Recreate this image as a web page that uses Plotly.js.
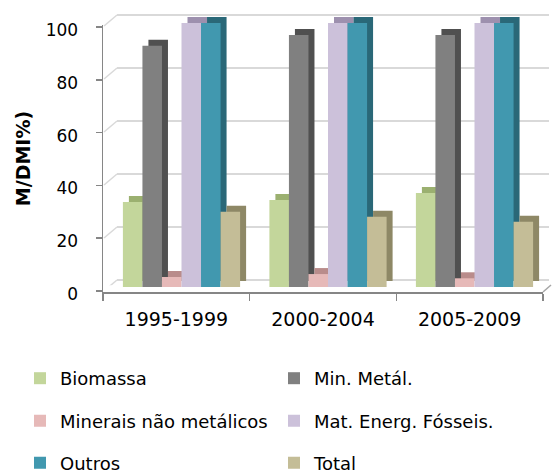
<!DOCTYPE html>
<html>
<head>
<meta charset="utf-8">
<script src="https://cdn.plot.ly/plotly-3.0.1.min.js"></script>
<style>
  html, body { margin: 0; padding: 0; background: #fff; }
  #chart { width: 552px; height: 473px; }
</style>
</head>
<body>
<div id="chart"></div>
<script>
// Periods on the category axis
const periods = ['1995-1999', '2000-2004', '2005-2009'];

// M/DMI (%) per material group
const biomassa  = [32.2, 33.0, 35.6];
const minMetal  = [91.4, 95.5, 95.5];
const minerais  = [3.8, 4.9, 3.3];
const matEnerg  = [100, 100, 100];
const outros    = [100, 100, 100];
const total     = [28.5, 26.6, 24.7];

const seriesNames = ['Biomassa', 'Min. Metál.', 'Minerais não metálicos',
                     'Mat. Energ. Fósseis.', 'Outros', 'Total'];
const seriesValues = [biomassa, minMetal, minerais, matEnerg, outros, total];
const yTicks = [0, 20, 40, 60, 80, 100];

// face / side colours of each series
const faceColors = ['#c3d69b', '#808080', '#e6b9b8', '#ccc1da', '#4198af', '#c4bd97'];
const sideColors = ['#9bb070', '#505050', '#b98c8b', '#9d90ae', '#2a6878', '#8e8866'];
const legendRow  = ['legend', 'legend', 'legend2', 'legend2', 'legend3', 'legend3'];

// page geometry helpers (pixels -> paper fractions)
const W = 552, H = 473;
const fx = p => p / W;
const fy = p => 1 - p / H;

// pseudo-3D depth of the chart box, in pixels
const DEPTH_X = 6, DEPTH_Y = 6;
const WALL_DX = 13, WALL_DY = 11;

// bar scale: pixels per unit, base line, bar plot vertical extent
const PPU = 2.64;
const BASE = 287, TOP = 10, BOTTOM = 292;
const CAT_W = 146.5, CAT_LEFT = 108.25;

const font = 'DejaVu Sans';
const traces = [];

// back wall holder
traces.push({type: 'scatter', x: [], y: [], xaxis: 'x', yaxis: 'y',
             showlegend: false, hoverinfo: 'skip'});

// side/top faces of the bars
seriesValues.forEach((vals, i) => {
  traces.push({
    type: 'bar', x: periods, y: vals, name: seriesNames[i],
    xaxis: 'x2', yaxis: 'y2', showlegend: false, hoverinfo: 'skip',
    marker: {color: sideColors[i], line: {width: 0}}
  });
});

// front faces of the bars
seriesValues.forEach((vals, i) => {
  traces.push({
    type: 'bar', x: periods, y: vals, name: seriesNames[i],
    xaxis: 'x3', yaxis: 'y3', legend: legendRow[i],
    marker: {color: faceColors[i], line: {width: 0}}
  });
});

// front axes holder (carries the period categories)
traces.push({type: 'scatter', mode: 'markers', x: periods, y: periods.map(() => null),
             xaxis: 'x4', yaxis: 'y4', showlegend: false, hoverinfo: 'skip'});

const hidden = {visible: false, fixedrange: true};

// left wall and floor edges
const shapes = yTicks.map(v => ({
  type: 'line', xref: 'paper', yref: 'y', layer: 'below',
  x0: fx(104), x1: fx(104 + WALL_DX),
  y0: v - WALL_DY / 2.65, y1: v,
  line: {color: '#d9d9d9', width: 1.5}
}));
shapes.push({
  type: 'line', xref: 'paper', yref: 'paper',
  x0: fx(543), y0: fy(292), x1: fx(551), y1: fy(285),
  line: {color: '#a6a6a6', width: 1.5}
});

const legendBase = {
  orientation: 'h', xanchor: 'left', yanchor: 'middle',
  x: fx(20), entrywidth: 209, entrywidthmode: 'pixels',
  bgcolor: 'rgba(0,0,0,0)', font: {family: font, size: 18, color: '#000'},
  itemclick: false, itemdoubleclick: false
};

const layout = {
  width: W, height: H,
  margin: {l: 0, r: 0, t: 0, b: 0, pad: 0, autoexpand: false},
  paper_bgcolor: '#fff', plot_bgcolor: 'rgba(0,0,0,0)',
  barmode: 'group', bargap: 0.2, bargroupgap: 0,
  hovermode: false,
  font: {family: font, color: '#000'},
  // back wall with its grid
  xaxis: Object.assign({}, hidden, {domain: [fx(117), fx(549)], anchor: 'y', range: [0, 1]}),
  yaxis: {
    domain: [fy(280 + 2 * 2.65), fy(15 - 2 * 2.65)], anchor: 'x', range: [-2, 102],
    tickvals: yTicks, showticklabels: false, ticks: '',
    showgrid: true, gridcolor: '#d9d9d9', gridwidth: 1.5,
    zeroline: false, showline: false, fixedrange: true
  },
  // bar sides, shifted back into the depth
  xaxis2: Object.assign({}, hidden, {
    domain: [fx(CAT_LEFT), fx(CAT_LEFT + 3 * CAT_W)], anchor: 'y2', type: 'category',
    range: [-0.5 - DEPTH_X / CAT_W, 2.5 - DEPTH_X / CAT_W]
  }),
  yaxis2: Object.assign({}, hidden, {
    domain: [fy(BOTTOM), fy(TOP)], anchor: 'x2',
    range: [-(BOTTOM - (BASE - DEPTH_Y)) / PPU, ((BASE - DEPTH_Y) - TOP) / PPU]
  }),
  // bar fronts
  xaxis3: Object.assign({}, hidden, {
    domain: [fx(CAT_LEFT), fx(CAT_LEFT + 3 * CAT_W)], anchor: 'y3', type: 'category',
    range: [-0.5, 2.5]
  }),
  yaxis3: Object.assign({}, hidden, {
    domain: [fy(BOTTOM), fy(TOP)], anchor: 'x3',
    range: [-(BOTTOM - BASE) / PPU, (BASE - TOP) / PPU]
  }),
  // front axes with ticks and labels
  xaxis4: {
    domain: [fx(103), fx(543)], anchor: 'y4', type: 'category',
    range: [-0.5, 2.5], tickson: 'boundaries',
    ticks: 'outside', ticklen: 7, tickwidth: 1.5, tickcolor: '#868686',
    showline: true, linecolor: '#868686', linewidth: 1.5,
    showgrid: false, zeroline: false, fixedrange: true,
    ticklabelstandoff: 10,
    tickfont: {family: font, size: 19, color: '#000'}
  },
  yaxis4: {
    domain: [fy(292), fy(25)], anchor: 'x4',
    range: [-(292 - 291) / PPU, (291 - 25) / PPU],
    tickvals: yTicks,
    ticks: 'outside', ticklen: 6, tickwidth: 1.5, tickcolor: '#868686',
    showline: true, linecolor: '#868686', linewidth: 1.5,
    showgrid: false, zeroline: false, fixedrange: true,
    ticklabelstandoff: 14, ticklabelshift: 3,
    tickfont: {family: font, size: 17, color: '#000'},
    title: {text: 'M/DMI%)', standoff: 10,
            font: {family: font, size: 19, weight: 700, color: '#000'}}
  },
  legend:  Object.assign({}, legendBase, {y: fy(378.5)}),
  legend2: Object.assign({}, legendBase, {y: fy(421)}),
  legend3: Object.assign({}, legendBase, {y: fy(463)}),
  shapes: shapes
};

Plotly.newPlot('chart', traces, layout, {displayModeBar: false, staticPlot: true});
</script>
</body>
</html>
